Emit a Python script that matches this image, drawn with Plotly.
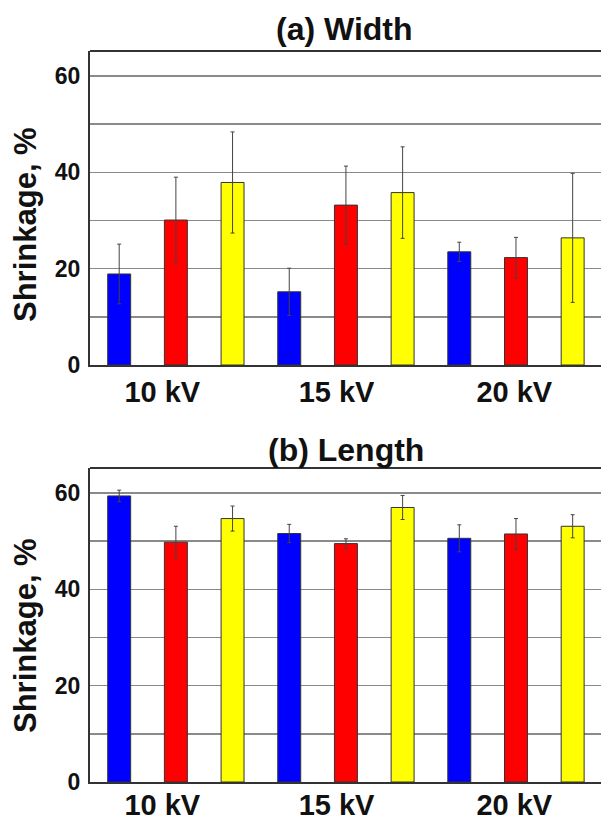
import plotly.graph_objects as go

categories = ["10 kV", "15 kV", "20 kV"]
series_names = ["Blue", "Red", "Yellow"]
series_colors = ["#0000FF", "#FF0000", "#FFFF00"]

# (a) Width shrinkage, %
width_vals = [[18.9, 15.2, 23.5], [30.1, 33.2, 22.3], [37.9, 35.8, 26.4]]
width_err = [[6.2, 4.9, 2.0], [8.9, 8.1, 4.2], [10.5, 9.5, 13.4]]

# (b) Length shrinkage, %
length_vals = [[59.4, 51.6, 50.6], [49.8, 49.5, 51.5], [54.7, 57.0, 53.1]]
length_err = [[1.2, 1.9, 2.8], [3.3, 1.0, 3.2], [2.6, 2.5, 2.4]]

y_tick_vals = [0, 20, 40, 60]
label_shift = [-0.08, -0.055, -0.01]

FONT = "Liberation Sans, Arial, sans-serif"
x_idx = list(range(len(categories)))

fig = go.Figure()
for panel, (vals, errs) in enumerate([(width_vals, width_err), (length_vals, length_err)]):
    xa = "x" if panel == 0 else "x2"
    ya = "y" if panel == 0 else "y2"
    for s in range(3):
        fig.add_trace(go.Bar(
            x=x_idx, y=vals[s], name=series_names[s],
            marker=dict(color=series_colors[s], line=dict(color="#333333", width=1)),
            error_y=dict(type="data", array=errs[s], visible=True,
                         color="#444444", thickness=1, width=2),
            xaxis=xa, yaxis=ya, offsetgroup=str(s), showlegend=False,
            hoverinfo="skip",
        ))

tickpos = [i + d for i, d in zip(x_idx, label_shift)]
xcommon = dict(range=[-0.505, 2.5], tickmode="array", tickvals=tickpos,
               ticktext=["<b>%s</b>" % c for c in categories],
               tickfont=dict(family=FONT, size=29, color="#111111"),
               showline=True, linecolor="#333333", linewidth=2, mirror=False,
               showgrid=False, zeroline=False, ticks="", fixedrange=True, automargin=False)
ycommon = dict(range=[0, 65.2], tickmode="array", tickvals=y_tick_vals,
               ticktext=["<b>%d</b>" % v for v in y_tick_vals],
               tickfont=dict(family=FONT, size=23, color="#111111"),
               showline=True, linecolor="#333333", linewidth=2,
               showgrid=True, gridcolor="#8a8a8a", gridwidth=1.5,
               minor=dict(dtick=10, showgrid=True, gridcolor="#8a8a8a", gridwidth=1.5, tick0=0),
               zeroline=False, ticks="outside", ticklen=3, tickcolor="rgba(0,0,0,0)",
               fixedrange=True, automargin=False)

H = 823.0
W = 601.0
top_dom = [1 - 365 / H, 1 - 51 / H]
bot_dom = [1 - 782 / H, 1 - 468 / H]
xdom = [90 / W, 1.0]

fig.update_layout(
    width=601, height=823,
    margin=dict(l=0, r=0, t=0, b=0, autoexpand=False),
    paper_bgcolor="white", plot_bgcolor="white",
    barmode="group", bargap=0.0, bargroupgap=0.595,
    xaxis=dict(domain=xdom, anchor="y", **xcommon),
    yaxis=dict(domain=top_dom, anchor="x", **ycommon),
    xaxis2=dict(domain=xdom, anchor="y2", ticklabelstandoff=-4, **xcommon),
    yaxis2=dict(domain=bot_dom, anchor="x2", **ycommon),
    shapes=[
        dict(type="line", xref="paper", yref="paper", x0=xdom[0], x1=1, y0=top_dom[1], y1=top_dom[1],
             line=dict(color="#333333", width=2)),
        dict(type="line", xref="paper", yref="paper", x0=xdom[0], x1=1, y0=bot_dom[1], y1=bot_dom[1],
             line=dict(color="#333333", width=2)),
    ],
    annotations=[
        dict(text="<b>(a) Width</b>", xref="paper", yref="paper", x=344 / W, y=1 - 29 / H,
             showarrow=False, font=dict(family=FONT, size=32, color="#111111"),
             xanchor="center", yanchor="middle"),
        dict(text="<b>(b) Length</b>", xref="paper", yref="paper", x=346 / W, y=1 - 450 / H,
             showarrow=False, font=dict(family=FONT, size=32, color="#111111"),
             xanchor="center", yanchor="middle"),
        dict(text="<b>Shrinkage, %</b>", xref="paper", yref="paper", x=25 / W, y=1 - 225 / H,
             showarrow=False, textangle=-90, font=dict(family=FONT, size=31, color="#111111"),
             xanchor="center", yanchor="middle"),
        dict(text="<b>Shrinkage, %</b>", xref="paper", yref="paper", x=25 / W, y=1 - 636 / H,
             showarrow=False, textangle=-90, font=dict(family=FONT, size=31, color="#111111"),
             xanchor="center", yanchor="middle"),
    ],
)

fig.write_html("out.html", config={"displayModeBar": False, "staticPlot": True},
               post_script="document.body.style.margin='0px';document.body.style.padding='0px';")
